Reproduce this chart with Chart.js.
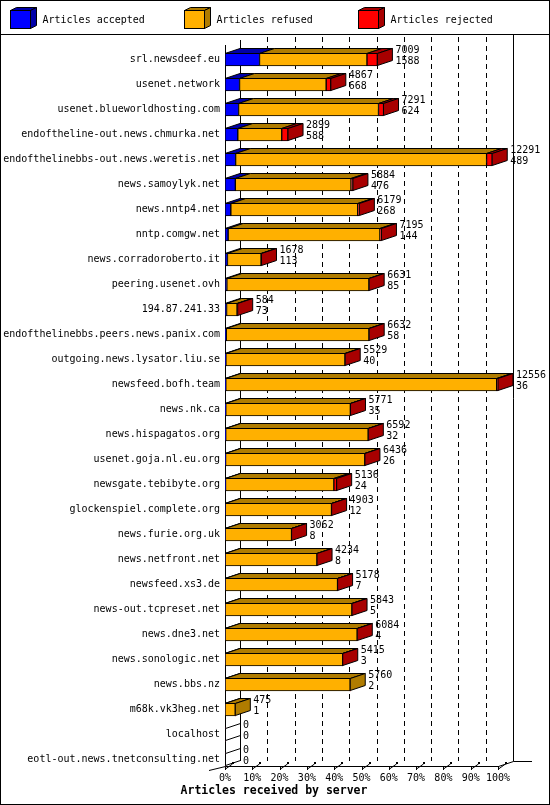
<!DOCTYPE html>
<html><head><meta charset="utf-8">
<script src="https://cdn.jsdelivr.net/npm/chart.js@4/dist/chart.umd.min.js"></script>
<style>html,body{margin:0;padding:0;background:#fff;overflow:hidden}canvas{display:block}</style>
</head><body>
<canvas id="c" width="550" height="805"></canvas>
<script>
const hosts = [
  'srl.newsdeef.eu','usenet.network','usenet.blueworldhosting.com','endoftheline-out.news.chmurka.net',
  'endofthelinebbs-out.news.weretis.net','news.samoylyk.net','news.nntp4.net','nntp.comgw.net',
  'news.corradoroberto.it','peering.usenet.ovh','194.87.241.33','endofthelinebbs.peers.news.panix.com',
  'outgoing.news.lysator.liu.se','newsfeed.bofh.team','news.nk.ca','news.hispagatos.org',
  'usenet.goja.nl.eu.org','newsgate.tebibyte.org','glockenspiel.complete.org','news.furie.org.uk',
  'news.netfront.net','newsfeed.xs3.de','news-out.tcpreset.net','news.dne3.net',
  'news.sonologic.net','news.bbs.nz','m68k.vk3heg.net','localhost','eotl-out.news.tnetconsulting.net'
];
const accepted = [1588,668,624,588,489,476,268,144,113,85,73,58,40,36,35,32,26,24,12,8,8,7,5,4,3,2,1,0,0];
const refused  = [4941,3984,6437,2021,11542,5318,5836,6981,1545,6536,481,6564,5479,12460,5731,6555,6405,4982,4886,3051,4223,5168,5835,6077,5410,5758,474,0,0];
const rejected = [480,215,230,290,260,90,75,70,20,10,30,10,10,60,5,5,5,130,5,3,3,3,3,3,2,0,0,0,0];
const seriesNames = ['Articles accepted','Articles refused','Articles rejected'];
const frontColors = ['#0000ff','#ffb000','#ff0000'];
const sideColors  = ['#0000a8','#b07c00','#a80000'];
const tickPercents = [0,10,20,30,40,50,60,70,80,90,100];
const axisTitle = 'Articles received by server';

const series = [accepted, refused, rejected];
const totals = hosts.map((_, i) => accepted[i] + refused[i] + rejected[i]);
const maxTotal = Math.max(...totals);
const DX = 15, DY = -5, BAR = 13;
const FONTFAM = '"DejaVu Sans Mono", "Liberation Mono", monospace';
const FONT = '10px ' + FONTFAM;

function poly(ctx, pts, fill) {
  ctx.beginPath();
  ctx.moveTo(pts[0][0], pts[0][1]);
  for (let k = 1; k < pts.length; k++) ctx.lineTo(pts[k][0], pts[k][1]);
  ctx.closePath();
  if (fill) { ctx.fillStyle = fill; ctx.fill(); }
  ctx.stroke();
}

const threeD = {
  id: 'threeD',
  beforeDraw(chart) {
    const ctx = chart.ctx;
    ctx.save(); ctx.fillStyle = '#fff'; ctx.fillRect(0, 0, chart.width, chart.height); ctx.restore();
  },
  beforeDatasetsDraw(chart) {
    const { ctx, chartArea: ca, scales: { x: xs, y: ys } } = chart;
    const n = hosts.length;
    const floor = Math.round(ys.getPixelForValue(n - 1) + BAR / 2);
    const x0 = Math.round(xs.getPixelForValue(0));
    const x100 = Math.round(xs.getPixelForValue(maxTotal));
    const backTop = 37;
    ctx.save();
    ctx.strokeStyle = '#000'; ctx.fillStyle = '#000'; ctx.lineWidth = 1;
    const line = (a, b, c, d) => { ctx.beginPath(); ctx.moveTo(a, b); ctx.lineTo(c, d); ctx.stroke(); };
    ctx.setLineDash([5, 4]);
    for (let k = 1; k < tickPercents.length - 1; k++) {
      const xb = Math.round(xs.getPixelForValue(maxTotal * tickPercents[k] / 100)) + DX + 0.5;
      line(xb, backTop, xb, floor + DY);
    }
    ctx.setLineDash([]);
    line(x0 + DX + 0.5, ca.top - 7, x0 + DX + 0.5, floor + DY);
    line(x100 + DX + 0.5, 35, x100 + DX + 0.5, floor + DY + 0.5);
    line(x0 + 0.5, ca.top - 2, x0 + 0.5, floor + 0.5);
    line(x0, floor + 0.5, x100 + 0.5, floor + 0.5);
    line(x100 + 0.5, floor + 0.5, x100 + DX + 0.5, floor + DY + 0.5);
    line(x100 + DX + 0.5, floor + DY + 0.5, x100 + DX + 19, floor + DY + 0.5);
    line(x0 - 16, floor + 4.5, x0 + 0.5, floor + 0.5);
    for (const p of tickPercents) {
      const fx = Math.round(xs.getPixelForValue(maxTotal * p / 100)) + 0.5;
      line(fx, floor, fx, floor + 4);
      line(fx, floor + 3, fx + 7, floor - 2);
      ctx.fillRect(fx + 6.5, floor - 4, 2, 2);
    }
    ctx.restore();
  },
  afterDatasetsDraw(chart) {
    const { ctx, scales: { x: xs, y: ys } } = chart;
    ctx.save();
    ctx.strokeStyle = '#000'; ctx.lineWidth = 1;
    const x0 = xs.getPixelForValue(0);
    hosts.forEach((h, i) => {
      const cy = ys.getPixelForValue(i);
      const top = Math.round(cy - BAR / 2) + 0.5;
      const bot = top + BAR - 1;
      let last = -1, lastX = x0;
      series.forEach((arr, d) => {
        if (arr[i] > 0) {
          const el = chart.getDatasetMeta(d).data[i];
          const p = el.getProps(['x', 'base'], true);
          const l = Math.min(p.x, p.base), r = Math.max(p.x, p.base);
          poly(ctx, [[l, top], [r, top], [r + DX, top + DY], [l + DX, top + DY]], sideColors[d]);
          last = d; lastX = r;
        }
      });
      if (last >= 0) {
        poly(ctx, [[lastX, top], [lastX + DX, top + DY], [lastX + DX, bot + DY], [lastX, bot]], sideColors[last]);
      } else {
        poly(ctx, [[x0 + 0.5, top], [x0 + DX + 0.5, top + DY], [x0 + DX + 0.5, bot + DY], [x0 + 0.5, bot]], null);
      }
      ctx.fillStyle = '#000';
      ctx.font = FONT;
      ctx.textAlign = 'left'; ctx.textBaseline = 'middle';
      const tx = xs.getPixelForValue(totals[i]) + DX + 3;
      ctx.fillText(String(totals[i]), tx, cy - 9.5);
      ctx.fillText(String(accepted[i]), tx, cy + 2);
    });
    ctx.restore();
  },
  afterDraw(chart) {
    const ctx = chart.ctx;
    ctx.save();
    ctx.strokeStyle = '#000'; ctx.lineWidth = 1;
    ctx.strokeRect(0.5, 0.5, chart.width - 1, chart.height - 1);
    ctx.beginPath(); ctx.moveTo(0, 34.5); ctx.lineTo(chart.width, 34.5); ctx.stroke();
    seriesNames.forEach((name, k) => {
      const fx = Math.round(10 + k * 173.8) + 0.5;
      const fy = 10.5;
      poly(ctx, [[fx, fy], [fx + 6, fy - 3], [fx + 26, fy - 3], [fx + 20, fy]], sideColors[k]);
      poly(ctx, [[fx + 20, fy], [fx + 26, fy - 3], [fx + 26, fy + 15], [fx + 20, fy + 18]], sideColors[k]);
      ctx.fillStyle = frontColors[k];
      ctx.fillRect(fx, fy, 20, 18);
      ctx.strokeRect(fx, fy, 20, 18);
      ctx.fillStyle = '#000';
      ctx.font = FONT; ctx.textAlign = 'left'; ctx.textBaseline = 'middle';
      ctx.fillText(name, fx + 32, 20);
    });
    ctx.font = 'bold 11.5px ' + FONTFAM;
    ctx.textAlign = 'center'; ctx.textBaseline = 'middle';
    ctx.fillStyle = '#000';
    ctx.fillText(axisTitle, 274, 791);
    ctx.restore();
  }
};

new Chart(document.getElementById('c'), {
  type: 'bar',
  data: {
    labels: hosts,
    datasets: series.map((arr, d) => ({
      label: seriesNames[d],
      data: arr,
      backgroundColor: frontColors[d],
      borderColor: '#000',
      borderWidth: (c) => (c.raw > 0 ? 1 : 0),
      borderSkipped: false,
      barThickness: BAR
    }))
  },
  options: {
    indexAxis: 'y',
    responsive: false,
    devicePixelRatio: 1,
    animation: false,
    events: [],
    layout: { padding: { top: 47, right: 52, left: 0, bottom: 0 } },
    plugins: { legend: { display: false }, tooltip: { enabled: false }, title: { display: false } },
    scales: {
      x: {
        stacked: true, min: 0, max: maxTotal,
        grid: { display: false, drawTicks: false },
        border: { display: false },
        afterBuildTicks: (s) => { s.ticks = tickPercents.map(p => ({ value: maxTotal * p / 100 })); },
        afterFit: (s) => { s.height = 33; },
        ticks: {
          autoSkip: false, maxRotation: 0, padding: 0, color: '#000',
          font: { family: FONTFAM, size: 10 },
          callback: (v) => Math.round(v / maxTotal * 100) + '%'
        },
        title: { display: false }
      },
      y: {
        stacked: true,
        grid: { display: false, drawTicks: false },
        border: { display: false },
        afterFit: (s) => { s.width = 225; },
        ticks: { autoSkip: false, padding: 5, color: '#000', font: { family: FONTFAM, size: 10 } }
      }
    }
  },
  plugins: [threeD]
});
</script>
</body></html>
